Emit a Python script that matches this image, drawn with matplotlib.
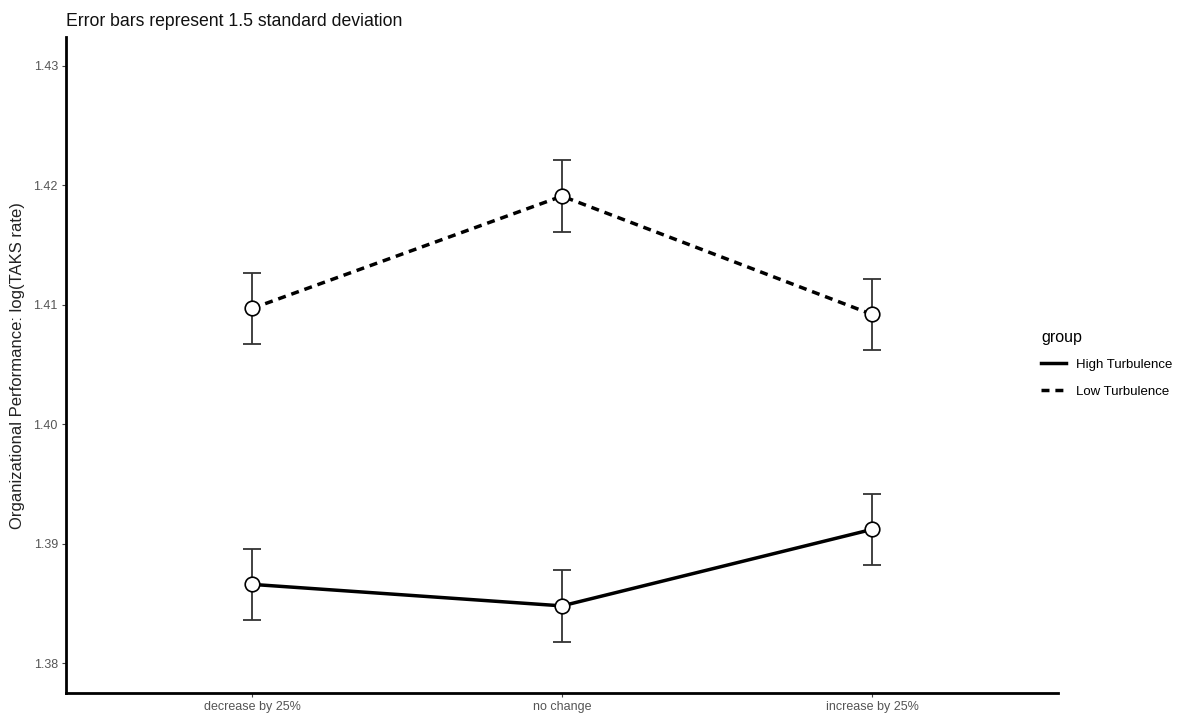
import numpy as np
import matplotlib
matplotlib.use("Agg")
import matplotlib.pyplot as plt
from matplotlib.lines import Line2D

plt.rcParams["font.family"] = ["Liberation Sans", "DejaVu Sans"]

categories = ["decrease by 25%", "no change", "increase by 25%"]
high_turb = [1.3866, 1.3848, 1.3912]
high_err = [0.0030, 0.0030, 0.0030]
low_turb = [1.4097, 1.4191, 1.4092]
low_err = [0.0030, 0.0030, 0.0030]
y_ticks = [1.38, 1.39, 1.40, 1.41, 1.42, 1.43]

DASH = (0, (2.3, 1.7))

fig = plt.figure(figsize=(11.82, 7.16), dpi=100)
ax = fig.add_axes([0.056, 0.032, 0.839, 0.916])
x = np.arange(1, len(categories) + 1)

for vals, errs, ls in [(high_turb, high_err, "-"), (low_turb, low_err, DASH)]:
    ax.errorbar(x, vals, yerr=errs, fmt="none", ecolor="#333333", elinewidth=1.3,
                capsize=6.5, capthick=1.3, zorder=2)
    ax.plot(x, vals, color="black", lw=2.5, ls=ls, zorder=3)
    ax.plot(x, vals, "o", ms=10.5, mfc="white", mec="black", mew=1.2, zorder=4)

ax.set_xlim(0.4, 3.6)
ax.set_ylim(1.3775, 1.4324)
ax.set_xticks(x)
ax.set_xticklabels(categories)
ax.set_yticks(y_ticks)
ax.set_yticklabels([f"{v:.2f}" for v in y_ticks])
ax.tick_params(axis="both", length=3, width=0.8, color="#444444", labelsize=9,
               labelcolor="#555555", pad=3)
for s in ["top", "right"]:
    ax.spines[s].set_visible(False)
for s in ["left", "bottom"]:
    ax.spines[s].set_linewidth(2.0)
ax.set_ylabel("Organizational Performance: log(TAKS rate)", fontsize=12, color="#222222",
              labelpad=6)
ax.set_title("Error bars represent 1.5 standard deviation", loc="left", fontsize=12.7,
             color="#111111", pad=8, x=0.0)

handles = [Line2D([], [], color="black", lw=2.5, ls="-"),
           Line2D([], [], color="black", lw=2.5, ls=DASH)]
leg = fig.legend(handles, ["High Turbulence", "Low Turbulence"], title="group",
                 loc="upper left", bbox_to_anchor=(0.871, 0.556), frameon=False,
                 fontsize=9.5, title_fontsize=11.5, handlelength=1.9, handletextpad=0.75,
                 labelspacing=1.1)
leg._legend_box.align = "left"
leg._legend_box.sep = 10

fig.savefig("out.png", dpi=100)
